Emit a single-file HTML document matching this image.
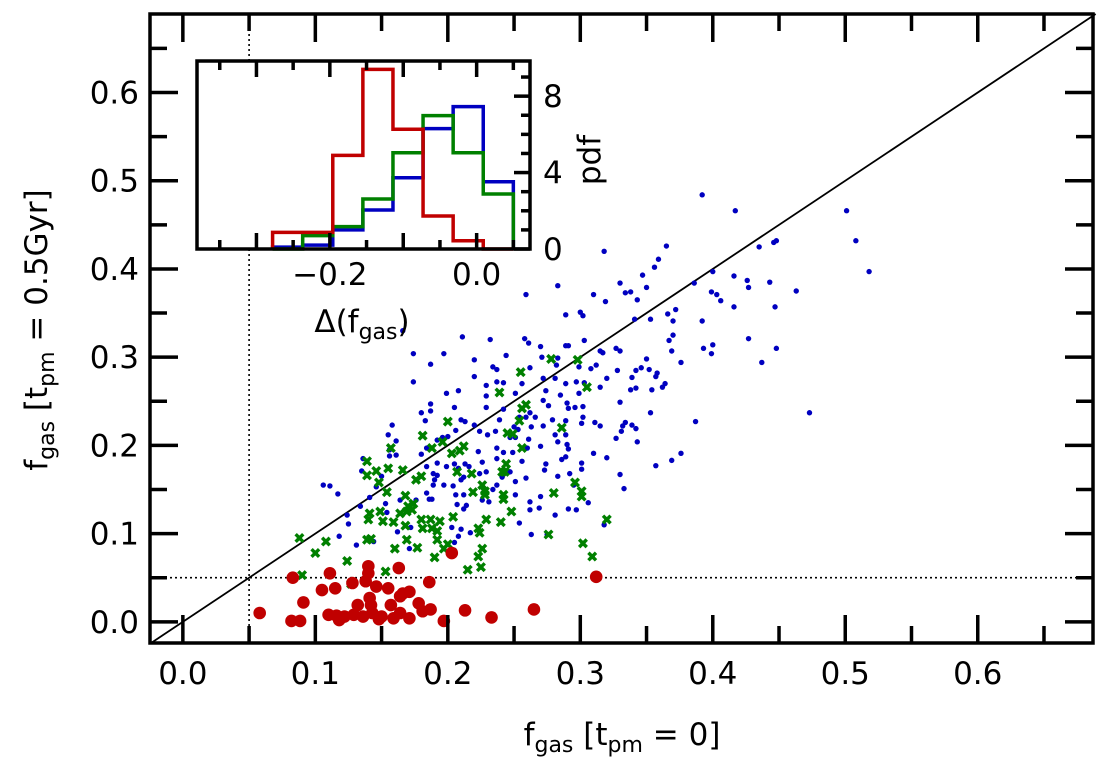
<!DOCTYPE html>
<html><head><meta charset="utf-8">
<style>
html,body{margin:0;padding:0;background:#fff;}
svg{display:block;font-family:"DejaVu Sans","Liberation Sans",sans-serif;}
</style></head>
<body>
<svg id="chart" width="1110" height="771" viewBox="0 0 1110 771" xmlns="http://www.w3.org/2000/svg">
<rect width="1110" height="771" fill="#fff"/>
<g id="main"></g>
<text x="622" y="745" font-size="31" text-anchor="middle">f<tspan font-size="22" dy="7">gas</tspan><tspan dy="-7"> [t</tspan><tspan font-size="22" dy="7">pm</tspan><tspan dy="-7"> = 0]</tspan></text>
<text transform="translate(47,330) rotate(-90)" font-size="31" text-anchor="middle">f<tspan font-size="22" dy="7">gas</tspan><tspan dy="-7"> [t</tspan><tspan font-size="22" dy="7">pm</tspan><tspan dy="-7"> = 0.5Gyr]</tspan></text>
<g id="inset"></g>
<text x="362" y="332" font-size="31" text-anchor="middle">Δ(f<tspan font-size="22" dy="7">gas</tspan><tspan dy="-7">)</tspan></text>
<text transform="translate(600,160) rotate(-90)" font-size="31" text-anchor="middle">pdf</text>
</svg>
<script>
// ---- main scatter data ----
const blueX=[.392,.417,.501,.508,.518,.365,.359,.356,.347,.350,.330,.334,.338,.343,.318,.283,.259,.310,.319,.435,.446,.448,.400,.416,.426,.427,.443,.463,.386,.399,.403,.406,.416,.447,.289,.300,.302,.341,.353,.366,.372,.370,.392,.370,.367,.369,.376,.393,.400,.399,.427,.448,.437,.473,.387,.376,.369,.357,.232,.258,.261,.270,.289,.291,.303,.315,.317,.327,.330,.350,.346,.342,.352,.358,.357,.364,.362,.354,.342,.338,.339,.328,.320,.315,.308,.312,.299,.282,.283,.271,.262,.244,.234,.237,.272,.281,.256,.237,.242,.297,.289,.303,.299,.285,.274,.251,.229,.229,.229,.242,.272,.276,.290,.291,.296,.302,.302,.289,.301,.311,.315,.330,.334,.339,.332,.342,.331,.327,.343,.353,.262,.259,.266,.272,.279,.263,.254,.250,.253,.239,.236,.230,.224,.247,.251,.261,.281,.289,.283,.290,.291,.270,.260,.237,.242,.249,.223,.310,.320,.286,.289,.274,.301,.237,.226,.256,
.211,.174,.197,.187,.220,.174,.220,.199,.208,.187,.180,.187,.205,.183,.158,.155,.161,.206,.210,.213,.220,.200,.196,.192,.184,.180,.156,.156,.161,.136,.135,.150,.146,.141,.134,.124,.117,.106,.111,.125,.118,.131,.144,.153,.154,.162,.172,.171,.164,.176,.189,.184,.188,.186,.197,.204,.192,.199,.205,.208,.213,.216,.212,.210,.189,.190,.192,.184,.212,.206,.207,.214,.212,.203,.210,.208,.217,.205,.205,.226,.231,.237,.234,.251,.254,.263,.262,.270,.269,.262,.281,.291,.297,.306,.318,.333,.330,.275,.224,.229,.241,.247,.251,.259,.273,.283,.292,.301,.295,.166];
const blueY=[.484,.466,.466,.432,.397,.426,.411,.402,.393,.379,.384,.373,.374,.365,.420,.381,.371,.371,.363,.425,.430,.432,.397,.392,.387,.379,.385,.375,.384,.374,.371,.364,.357,.357,.348,.351,.347,.343,.343,.349,.354,.341,.341,.325,.319,.307,.294,.310,.314,.304,.321,.310,.294,.237,.227,.191,.183,.177,.320,.321,.316,.312,.313,.313,.319,.307,.305,.310,.307,.298,.288,.285,.286,.282,.278,.270,.266,.263,.265,.263,.277,.285,.276,.266,.287,.291,.289,.291,.299,.300,.288,.302,.289,.286,.276,.276,.270,.272,.271,.272,.270,.271,.259,.257,.262,.259,.268,.256,.243,.241,.251,.245,.248,.242,.243,.244,.232,.228,.225,.226,.222,.249,.226,.223,.222,.219,.216,.208,.204,.237,.237,.232,.232,.222,.229,.221,.232,.221,.218,.229,.216,.212,.216,.209,.209,.207,.212,.212,.204,.201,.196,.199,.197,.197,.192,.192,.193,.191,.186,.184,.187,.179,.180,.185,.181,.182,
.323,.304,.304,.292,.297,.272,.278,.259,.262,.247,.237,.239,.243,.228,.223,.212,.205,.217,.229,.227,.223,.210,.209,.206,.197,.190,.195,.188,.189,.185,.171,.165,.153,.141,.131,.121,.145,.155,.154,.111,.097,.087,.091,.134,.124,.102,.107,.083,.138,.138,.155,.146,.139,.139,.155,.154,.166,.176,.179,.174,.179,.176,.164,.161,.168,.161,.180,.176,.144,.144,.133,.132,.128,.107,.105,.097,.101,.090,.081,.138,.136,.155,.150,.144,.112,.099,.136,.142,.129,.127,.121,.128,.127,.135,.110,.151,.167,.099,.168,.170,.164,.170,.159,.163,.172,.165,.168,.173,.155,.330];
const greenX=[.278,.298,.255,.305,.239,.256,.259,.254,.286,.245,.249,.256,.244,.200,.181,.157,.196,.212,.209,.203,.139,.146,.155,.166,.139,.180,.176,.188,.207,.218,.241,.243,.226,.228,.228,.219,.242,.242,.148,.154,.168,.174,.170,.169,.173,.164,.141,.149,.140,.151,.159,.168,.180,.181,.187,.194,.188,.192,.204,.223,.224,.229,.240,.248,.280,.301,.301,.296,.320,.276,.302,.309,.139,.142,.169,.177,.160,.192,.197,.200,.190,.226,.223,.225,.215,.108,.124,.100,.153,.127,.090,.088];
const greenY=[.298,.297,.283,.266,.260,.242,.246,.228,.220,.214,.213,.197,.179,.227,.211,.197,.204,.199,.194,.191,.182,.171,.174,.172,.166,.165,.161,.197,.170,.168,.170,.170,.155,.148,.144,.147,.144,.139,.158,.147,.143,.134,.131,.125,.127,.123,.123,.125,.116,.114,.113,.109,.116,.106,.116,.114,.106,.103,.119,.106,.101,.116,.113,.125,.146,.148,.142,.158,.116,.099,.089,.074,.093,.094,.093,.084,.083,.093,.083,.088,.073,.083,.074,.062,.059,.091,.069,.078,.057,.043,.053,.095];
const redX=[.312,.083,.058,.082,.0885,.091,.105,.115,.111,.140,.140,.163,.128,.138,.146,.155,.186,.141,.132,.142,.157,.166,.171,.164,.178,.187,.110,.116,.122,.129,.136,.143,.150,.159,.164,.171,.181,.197,.213,.233,.265,.118,.148,.203];
const redY=[.051,.050,.010,.001,.001,.022,.036,.038,.055,.063,.055,.061,.044,.046,.040,.038,.045,.027,.019,.019,.019,.032,.034,.029,.021,.014,.008,.007,.006,.008,.006,.010,.006,.004,.010,.004,.012,.001,.013,.005,.014,.002,.003,.078];
const xTicks=[0,0.1,0.2,0.3,0.4,0.5,0.6];
const xTickLabels=["0.0","0.1","0.2","0.3","0.4","0.5","0.6"];
const yTicks=[0,0.1,0.2,0.3,0.4,0.5,0.6];
const yTickLabels=["0.0","0.1","0.2","0.3","0.4","0.5","0.6"];
const minorTicks=[0.05,0.15,0.25,0.35,0.45,0.55,0.65];
const refLevel=[0.05];
// ---- inset histogram data ----
const binEdges=[-0.278,-0.237,-0.196,-0.155,-0.114,-0.073,-0.032,0.009,0.050];
const redH=[0.87,0.87,4.9,9.4,6.27,1.73,0.43,0];
const blueH=[0.1,0.2,1.0,2.04,3.73,6.3,7.45,3.52];
const greenH=[0,0.7,1.17,2.62,5.04,6.98,5.04,2.88];
const insetXTicks=[-0.2,0.0];
const insetXTickLabels=["\u22120.2","0.0"];
const insetXMinor=[-0.35,-0.3,-0.25,-0.15,-0.1,-0.05,0.05];
const insetYTicks=[0,4,8];
const insetYMinor=[1,2,3,5,6,7,9];

const NS="http://www.w3.org/2000/svg";
const L=150,R=1093,T=14,B=643;
const X0=-0.0248,X1=0.687,Y0=-0.024,Y1=0.689;
function sx(v){return L+(v-X0)/(X1-X0)*(R-L);}
function sy(v){return B-(v-Y0)/(Y1-Y0)*(B-T);}
const IL=197,IR=530,IT=61,IB=249;
const IX0=-0.381,IX1=0.0727,IY0=0,IY1=9.84;
function ix(v){return IL+(v-IX0)/(IX1-IX0)*(IR-IL);}
function iy(v){return IB-(v-IY0)/(IY1-IY0)*(IB-IT);}
function mk(tag,attrs,parent){const e=document.createElementNS(NS,tag);for(const k in attrs)e.setAttribute(k,attrs[k]);parent.appendChild(e);return e;}

const main=document.getElementById('main');
refLevel.forEach(v=>{
  let l1=mk('line',{x1:sx(v),x2:sx(v),y1:T,y2:B,stroke:'#000','stroke-width':1.6,'stroke-dasharray':'2,3'},main);
  
  
  let l2=mk('line',{x1:L,x2:R,y1:sy(v),y2:sy(v),stroke:'#000','stroke-width':1.6,'stroke-dasharray':'2,3'},main);
  
  
});
const d1=mk('line',{x1:sx(X0),y1:sy(X0),x2:sx(Y1),y2:sy(Y1),stroke:'#000','stroke-width':1.8},main);


blueX.forEach((x,i)=>{const c=mk('circle',{cx:sx(x),cy:sy(blueY[i]),r:2.7,fill:'#0000c0'},main);
  
  });
greenX.forEach((x,i)=>{const cx=sx(x),cy=sy(greenY[i]);
  const c=mk('path',{d:`M${cx-3.8},${cy-3.8} L${cx+3.8},${cy+3.8} M${cx-3.8},${cy+3.8} L${cx+3.8},${cy-3.8}`,stroke:'#008000','stroke-width':3.4},main);
  mk('circle',{cx:cx,cy:cy,r:2.6,fill:'#008000'},main);
  
  });
redX.forEach((x,i)=>{const c=mk('circle',{cx:sx(x),cy:sy(redY[i]),r:6.3,fill:'#c00000'},main);
  
  });
function tick(x1,y1,x2,y2,p){mk('line',{x1:x1,y1:y1,x2:x2,y2:y2,stroke:'#000','stroke-width':3.5},p);}
xTicks.forEach((v,i)=>{const x=sx(v);tick(x,B,x,B-28,main);tick(x,T,x,T+28,main);
  const t=mk('text',{x:x,y:684,'font-size':31,'text-anchor':'middle'},main);t.textContent=xTickLabels[i];
  
  });
minorTicks.forEach(v=>{const x=sx(v);tick(x,B,x,B-17,main);tick(x,T,x,T+17,main);
  const y=sy(v);tick(L,y,L+17,y,main);tick(R,y,R-17,y,main);});
yTicks.forEach((v,i)=>{const y=sy(v);tick(L,y,L+28,y,main);tick(R,y,R-28,y,main);
  const t=mk('text',{x:139,y:y+11,'font-size':31,'text-anchor':'end'},main);t.textContent=yTickLabels[i];
  
  });
const fr=mk('rect',{x:L,y:T,width:R-L,height:B-T,fill:'none',stroke:'#000','stroke-width':3.5},main);



const ins=document.getElementById('inset');
const bg=mk('rect',{x:IL,y:IT,width:IR-IL,height:IB-IT,fill:'#fff'},ins);


function stepPath(h){let d='M'+ix(binEdges[0])+','+iy(0);
  h.forEach((v,i)=>{d+=' L'+ix(binEdges[i])+','+iy(v)+' L'+ix(binEdges[i+1])+','+iy(v);});
  d+=' L'+ix(binEdges[binEdges.length-1])+','+iy(0);return d;}
[[blueH,'#0000c0','blue-histogram'],[greenH,'#008000','green-histogram'],[redH,'#c00000','red-histogram']].forEach(s=>{
  const p=mk('path',{d:stepPath(s[0]),fill:'none',stroke:s[1],'stroke-width':3.5},ins);
  
  });
insetXTicks.forEach((v,i)=>{const x=ix(v);tick(x,IB,x,IB-16,ins);tick(x,IT,x,IT+16,ins);
  const t=mk('text',{x:x,y:285,'font-size':31,'text-anchor':'middle'},ins);t.textContent=insetXTickLabels[i];
  
  });
[-0.3,-0.1].forEach(v=>{const x=ix(v);tick(x,IB,x,IB-16,ins);tick(x,IT,x,IT+16,ins);});
insetXMinor.filter(v=>v!==-0.3&&v!==-0.1).forEach(v=>{const x=ix(v);tick(x,IB,x,IB-9,ins);tick(x,IT,x,IT+9,ins);});
insetYTicks.forEach(v=>{const y=iy(v);tick(IR,y,IR-16,y,ins);
  const t=mk('text',{x:543,y:y+11,'font-size':31,'text-anchor':'start'},ins);t.textContent=String(v);
  
  });
insetYMinor.forEach(v=>{const y=iy(v);tick(IR,y,IR-9,y,ins);});
const ifr=mk('rect',{x:IL,y:IT,width:IR-IL,height:IB-IT,fill:'none',stroke:'#000','stroke-width':3.5},ins);


</script>
</body></html>
